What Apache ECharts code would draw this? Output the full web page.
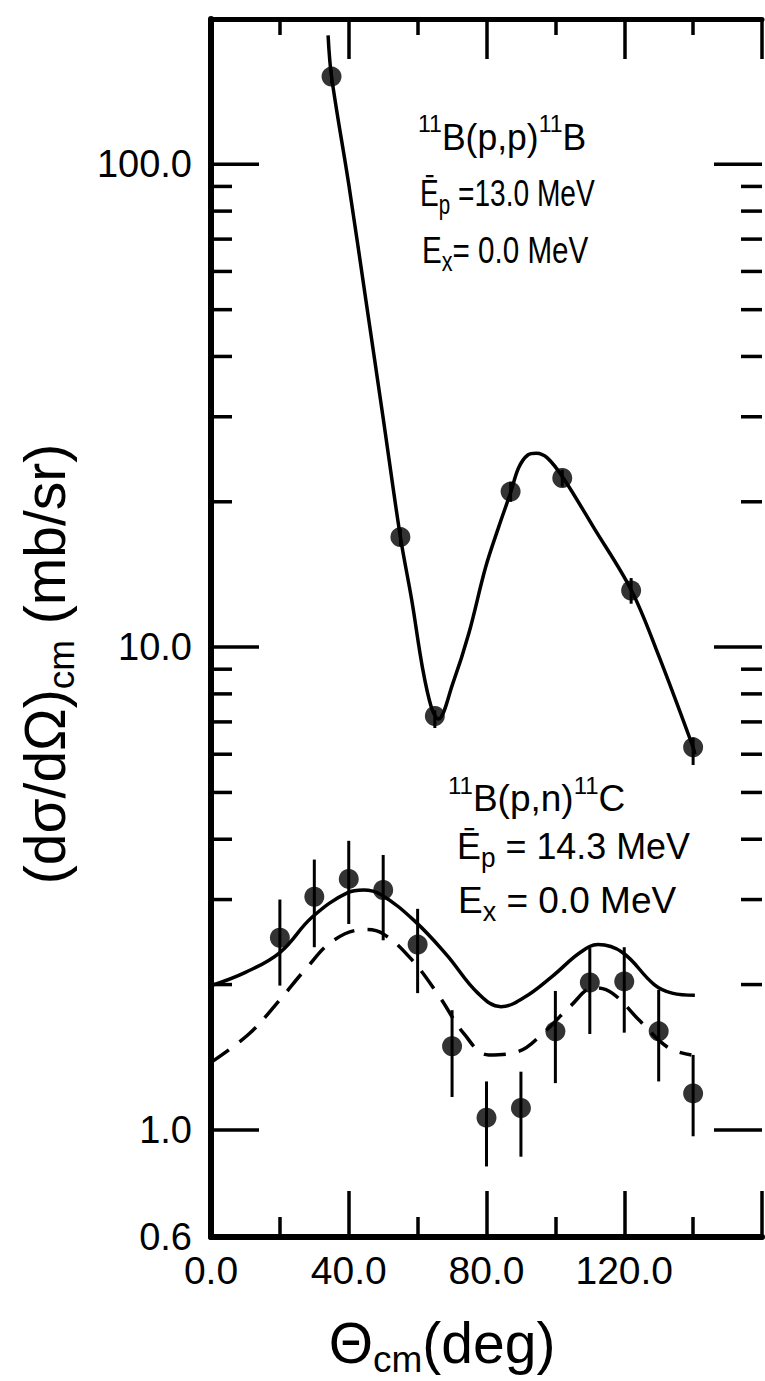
<!DOCTYPE html>
<html>
<head>
<meta charset="utf-8">
<script src="https://cdn.jsdelivr.net/npm/echarts@6/dist/echarts.min.js"></script>
<style>
html,body{margin:0;padding:0;background:#fff;}
#chart{width:765px;height:1381px;}
</style>
</head>
<body>
<div id="chart"></div>
<script>
// ---------- data ----------
const yMajorTicks = [1, 10, 100];
const yMinorTicks = [2, 3, 4, 5, 6, 7, 8, 9, 20, 30, 40, 50, 60, 70, 80, 90];

// 11B(p,p)11B measured points
const ppAngles = [35, 55, 65, 87, 102, 122, 140];
const ppValues = [152, 16.9, 7.2, 21.0, 22.4, 13.1, 6.2];
const ppErrLow = [147, 16.2, 6.8, 20.0, 21.5, 12.3, 5.7];
const ppErrHigh = [157, 17.6, 7.4, 22.0, 23.3, 13.9, 6.5];
// 11B(p,p)11B fitted curve
const ppCurveAngles = [34, 35, 40, 45, 50, 55, 58.3, 61.4, 64, 66, 70.2, 74.9, 79.7, 83.5, 87.1, 89.3, 92, 94.5, 97.8, 102.3, 111.1, 122.1, 130, 140, 140.5];
const ppCurveValues = [185, 152, 90.9, 52.2, 29.8, 16.9, 12.5, 9.07, 7.5, 7.1, 8.4, 10.7, 14.6, 17.7, 21.0, 23.5, 25.0, 25.2, 24.6, 22.4, 17.7, 13.1, 9.6, 6.2, 6.0];

// 11B(p,n)11C measured points with error bars
const pnAngles = [20, 30, 40, 50, 60, 70, 80, 90, 100, 110, 120, 130, 140];
const pnValues = [2.50, 3.04, 3.31, 3.14, 2.42, 1.49, 1.06, 1.11, 1.60, 2.02, 2.03, 1.60, 1.19];
const pnErrLow = [1.99, 2.39, 2.67, 2.47, 1.92, 1.17, 0.84, 0.88, 1.25, 1.58, 1.59, 1.26, 0.97];
const pnErrHigh = [3.00, 3.63, 3.97, 3.71, 2.87, 1.77, 1.26, 1.32, 1.94, 2.38, 2.39, 1.95, 1.43];
// solid curve
const pnSolidAngles = [0, 10, 20, 29.4, 39.7, 44.3, 49.4, 59.1, 68.3, 77.5, 84.2, 90.9, 99.1, 107.2, 112.4, 119.5, 128.7, 133.9, 140.5];
const pnSolidValues = [1.99, 2.12, 2.33, 2.76, 3.10, 3.14, 3.07, 2.71, 2.31, 1.92, 1.80, 1.88, 2.08, 2.33, 2.42, 2.33, 2.00, 1.92, 1.90];
// dashed curve
const pnDashAngles = [0, 11, 20, 27.4, 35.6, 44.8, 49.9, 58.1, 66.3, 73.5, 80.6, 88.8, 97, 104.2, 111.3, 116.5, 124.6, 132.8, 139.5];
const pnDashValues = [1.38, 1.58, 1.86, 2.15, 2.47, 2.60, 2.55, 2.26, 1.89, 1.58, 1.43, 1.45, 1.60, 1.80, 1.97, 1.92, 1.68, 1.48, 1.43];

// texts
const xTitle = ['Θ', 'cm', '(deg)'];
const yTitle = ['(dσ/dΩ)', 'cm', ' (mb/sr)'];
const ppLabel = [['11', 'B(p,p)', '11', 'B'], ['Ē', 'p', ' =13.0 MeV'], ['E', 'x', '= 0.0 MeV']];
const pnLabel = [['11', 'B(p,n)', '11', 'C'], ['Ē', 'p', ' = 14.3 MeV'], ['E', 'x', ' = 0.0 MeV']];

// ---------- chart ----------
const FONT = 'Liberation Sans, Arial, sans-serif';
const chart = echarts.init(document.getElementById('chart'), null, {renderer: 'svg'});

const zip = (a, b) => a.map((v, i) => [v, b[i]]);

function tickSeries(values, len) {
  return {
    type: 'custom', silent: true, clip: false, z: 5,
    data: values.map(v => [v]),
    renderItem: function (params, api) {
      const v = api.value(0);
      const pl = api.coord([0, v]);
      const pr = api.coord([160, v]);
      return {type: 'group', children: [
        {type: 'line', shape: {x1: pl[0], y1: pl[1], x2: pl[0] + len, y2: pl[1]}, style: {stroke: '#000', lineWidth: 3.5}},
        {type: 'line', shape: {x1: pr[0] - len, y1: pr[1], x2: pr[0], y2: pr[1]}, style: {stroke: '#000', lineWidth: 3.5}}
      ]};
    }
  };
}

function errSeries(xs, lo, hi) {
  return {
    type: 'custom', silent: true, clip: false, z: 6,
    data: xs.map((x, i) => [x, lo[i], hi[i]]),
    renderItem: function (params, api) {
      const a = api.coord([api.value(0), api.value(1)]);
      const b = api.coord([api.value(0), api.value(2)]);
      return {type: 'line', shape: {x1: a[0], y1: a[1], x2: b[0], y2: b[1]}, style: {stroke: '#000', lineWidth: 3}};
    }
  };
}

const rich = {
  n: {fontFamily: FONT, fontSize: 37, color: '#000', lineHeight: 50, verticalAlign: 'middle'},
  sup: {fontFamily: FONT, fontSize: 24, color: '#000', lineHeight: 20, verticalAlign: 'top'},
  sub: {fontFamily: FONT, fontSize: 27, color: '#000', lineHeight: 16, verticalAlign: 'bottom'}
};
function labelText(parts, kinds) {
  return parts.map((p, i) => '{' + kinds[i] + '|' + p + '}').join('');
}
function annotation(lines, x, ys, sx) {
  const kinds = [['sup', 'n', 'sup', 'n'], ['n', 'sub', 'n'], ['n', 'sub', 'n']];
  return lines.map((ln, i) => ({
    type: 'text', x: x[i], y: ys[i], scaleX: sx[i], z: 20,
    style: {text: labelText(ln, kinds[i]), rich: rich, align: 'left', verticalAlign: 'middle', fill: '#000'}
  }));
}

const titleRich = {
  n: {fontFamily: FONT, fontSize: 57, color: '#000', lineHeight: 70, verticalAlign: 'middle'},
  sub: {fontFamily: FONT, fontSize: 37, color: '#000', lineHeight: 26, verticalAlign: 'bottom'}
};

const option = {
  animation: false,
  backgroundColor: '#fff',
  grid: {left: 211, right: -6, top: 19, bottom: 144, containLabel: false},
  xAxis: [
    {
      type: 'value', position: 'bottom', min: 0, max: 160, interval: 40,
      axisLine: {show: true, onZero: false, lineStyle: {color: '#000', width: 6}},
      axisTick: {show: true, inside: true, length: 46, lineStyle: {color: '#000', width: 3.5}},
      minorTick: {show: true, splitNumber: 2, length: 20, lineStyle: {color: '#000', width: 3.5}},
      splitLine: {show: false},
      axisLabel: {show: true, margin: 14, color: '#000', fontFamily: FONT, fontSize: 39,
        formatter: v => (v >= 160 ? '' : v.toFixed(1))}
    },
    {
      type: 'value', position: 'top', min: 0, max: 160, interval: 40,
      axisLine: {show: true, onZero: false, lineStyle: {color: '#000', width: 5}},
      axisTick: {show: true, inside: true, length: 40, lineStyle: {color: '#000', width: 3.5}},
      minorTick: {show: true, splitNumber: 2, length: 16, lineStyle: {color: '#000', width: 3.5}},
      splitLine: {show: false},
      axisLabel: {show: false}
    }
  ],
  yAxis: {
    type: 'log', logBase: 10, min: 0.6, max: 200,
    axisLine: {show: true, onZero: false, lineStyle: {color: '#000', width: 6}},
    axisTick: {show: false},
    splitLine: {show: false},
    axisLabel: {show: true, margin: 19, color: '#000', fontFamily: FONT, fontSize: 38,
      formatter: v => (v > 150 ? '' : (+v).toFixed(1))}
  },
  graphic: [
    {type: 'text', x: 442, y: 1343, z: 20,
      style: {text: labelText(xTitle, ['n', 'sub', 'n']), rich: titleRich, align: 'center', verticalAlign: 'middle'}},
    {type: 'text', x: 45, y: 664, rotation: Math.PI / 2, z: 20,
      style: {text: labelText(yTitle, ['n', 'sub', 'n']), rich: titleRich, align: 'center', verticalAlign: 'middle'}}
  ].concat(annotation(ppLabel, [418, 420, 422], [137, 193, 250], [0.96, 0.76, 0.8]))
   .concat(annotation(pnLabel, [448, 457, 458], [798, 846, 900], [1.0, 0.97, 1.0])),
  series: [
    tickSeries(yMajorTicks, 48),
    tickSeries(yMinorTicks, 21),
    {type: 'line', data: zip(ppCurveAngles, ppCurveValues), smooth: 0.35, showSymbol: false, silent: true,
      lineStyle: {color: '#000', width: 3.5}, z: 3},
    {type: 'line', data: zip(pnSolidAngles, pnSolidValues), smooth: 0.4, showSymbol: false, silent: true,
      lineStyle: {color: '#000', width: 3.5}, z: 3},
    {type: 'line', data: zip(pnDashAngles, pnDashValues), smooth: 0.4, showSymbol: false, silent: true,
      lineStyle: {color: '#000', width: 3.5, type: [22, 13]}, z: 3},
    errSeries(ppAngles, ppErrLow, ppErrHigh),
    errSeries(pnAngles, pnErrLow, pnErrHigh),
    {type: 'scatter', data: zip(ppAngles, ppValues), symbol: 'circle', symbolSize: 20, silent: true,
      itemStyle: {color: '#000'}, z: 8},
    {type: 'scatter', data: zip(pnAngles, pnValues), symbol: 'circle', symbolSize: 20, silent: true,
      itemStyle: {color: '#000'}, z: 8}
  ]
};
chart.setOption(option);
</script>
</body>
</html>
